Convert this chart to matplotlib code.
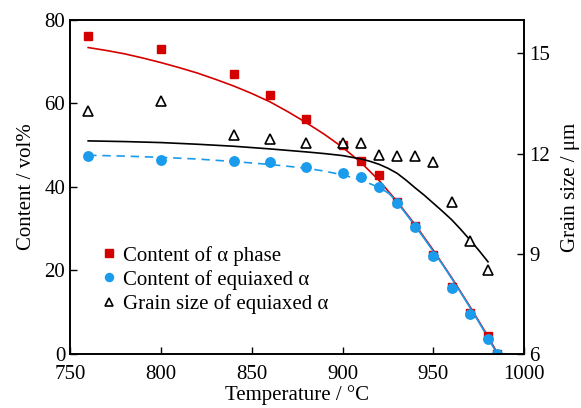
import numpy as np
import matplotlib
matplotlib.use('Agg')
from matplotlib import pyplot as plt

plt.rcParams['font.family'] = ['Liberation Serif', 'DejaVu Serif']

red = '#d40000'
blue = '#1a9bec'

# measured points
t_alpha = [760, 800, 840, 860, 880, 900, 910, 920, 930, 940, 950, 960, 970, 980, 985]
alpha = [76.2, 73.0, 67.1, 62.0, 56.4, 50.0, 46.2, 42.9, 36.5, 30.6, 23.8, 16.0, 9.8, 4.2, 0.0]

t_eq = [760, 800, 840, 860, 880, 900, 910, 920, 930, 940, 950, 960, 970, 980, 985]
eq = [47.4, 46.4, 46.2, 45.9, 44.8, 43.4, 42.5, 40.1, 36.1, 30.4, 23.5, 15.7, 9.5, 3.6, 0.0]

t_gs = [760, 800, 840, 860, 880, 900, 910, 920, 930, 940, 950, 960, 970, 980]
gs = [13.27, 13.56, 12.57, 12.45, 12.33, 12.31, 12.31, 11.97, 11.94, 11.92, 11.75, 10.56, 9.38, 8.51]

# fitted curves
t_fit_a = [760, 770, 780, 790, 800, 810, 820, 830, 840, 850, 860, 870, 880, 890,
           900, 910, 920, 930, 940, 950, 960, 970, 980, 985]
fit_a = [73.4, 72.7, 71.9, 70.9, 69.8, 68.6, 67.3, 65.8, 64.2, 62.4, 60.4, 58.0, 55.4, 52.6,
         49.5, 45.9, 41.6, 36.5, 30.9, 24.8, 18.3, 11.4, 4.2, 0.3]

t_fit_ed = [760, 780, 800, 820, 840, 860, 880, 890, 900, 910, 920, 928]
fit_ed = [47.6, 47.4, 47.1, 46.7, 46.1, 45.4, 44.5, 43.8, 42.9, 41.7, 39.9, 37.8]
t_fit_es = [925, 930, 935, 940, 945, 950, 955, 960, 965, 970, 975, 980, 985]
fit_es = [38.7, 36.3, 33.5, 30.6, 27.6, 24.5, 21.4, 18.1, 14.7, 11.2, 7.6, 3.9, 0.0]

t_fit_g = [760, 780, 800, 820, 840, 860, 880, 890, 900, 910, 915, 920, 925, 930,
           935, 940, 945, 950, 955, 960, 965, 970, 975, 980]
fit_g = [12.38, 12.36, 12.33, 12.28, 12.22, 12.14, 12.05, 12.00, 11.94, 11.84, 11.77, 11.68,
         11.56, 11.41, 11.20, 10.97, 10.75, 10.51, 10.27, 10.02, 9.73, 9.42, 9.10, 8.76]

fig = plt.figure(figsize=(5.81, 4.08), dpi=100)
ax = fig.add_axes([0.1205, 0.1324, 0.782, 0.8186])
ax2 = ax.twinx()

ax.plot(t_fit_a, fit_a, color=red, lw=1.2)
ax.plot(t_fit_ed, fit_ed, color=blue, lw=1.2, ls=(0, (5, 3.5)))
ax.plot(t_fit_es, fit_es, color=blue, lw=1.2)
h1, = ax.plot(t_alpha, alpha, 's', color=red, ms=6, ls='none', label='Content of α phase')
h2, = ax.plot(t_eq, eq, 'o', color=blue, ms=6.8, ls='none', label='Content of equiaxed α')

ax2.plot(t_fit_g, fit_g, color='black', lw=1.2)
h3, = ax2.plot(t_gs, gs, '^', mfc='white', mec='black', mew=1.2, ms=7.5, ls='none',
               label='Grain size of equiaxed α')

ax.set_xlim(750, 1000)
ax.set_ylim(0, 80)
ax2.set_ylim(6, 16)
ax.set_xticks([750, 800, 850, 900, 950, 1000])
ax.set_yticks([0, 20, 40, 60, 80])
ax2.set_yticks([6, 9, 12, 15])

ax.tick_params(direction='in', length=5, width=1, labelsize=15, top=False)
ax2.tick_params(direction='in', length=5, width=1, labelsize=15)
ax.tick_params(axis='x', pad=8)
for a in (ax, ax2):
    for s in a.spines.values():
        s.set_linewidth(1.2)

ax.set_xlabel('Temperature / °C', fontsize=15, labelpad=1)
ax.set_ylabel('Content / vol%', fontsize=15, labelpad=6)
ax2.set_ylabel('Grain size / μm', fontsize=15, labelpad=8)

ax.legend(handles=[h1, h2, h3], loc='center left', bbox_to_anchor=(0.035, 0.222),
          frameon=False, fontsize=15, handlelength=0.8, handletextpad=0.3,
          labelspacing=0.2, borderpad=0.2, markerscale=0.85)

fig.savefig('out.png', dpi=100)
